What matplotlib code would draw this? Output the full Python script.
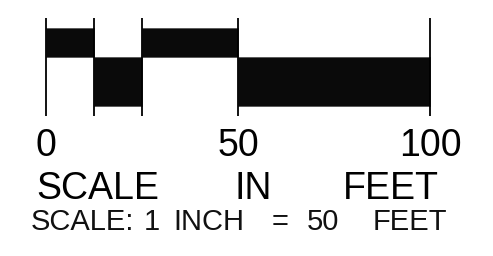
import matplotlib.pyplot as plt

# scale bar segments (feet) and which half of the bar each one fills
edges = [0, 12.5, 25, 50, 100]
fill_row = ['top', 'bottom', 'top', 'bottom']
tick_labels = ['0', '50', '100']
tick_values = [0, 50, 100]
words = ['SCALE', 'IN', 'FEET']
word_centers = [13.5, 53.9, 89.8]
note_words = ['SCALE:', '1', 'INCH', '=', '50', 'FEET']
note_center_px = [82, 152, 209, 280, 323, 410]

PX_PER_FT = 3.84
X0_PX = 46


def px_to_ft(px):
    return (px - X0_PX) / PX_PER_FT


fig = plt.figure(figsize=(4.93, 2.56), dpi=100)
ax = fig.add_axes([0, 0, 1, 1])
ax.set_xlim(px_to_ft(0), px_to_ft(493))
ax.set_ylim(256, 0)
ax.axis('off')

rows = {'top': (28, 29), 'bottom': (57, 49)}
for left, right, row in zip(edges[:-1], edges[1:], fill_row):
    y, h = rows[row]
    ax.bar(left, h, width=right - left, bottom=y, align='edge',
           color='#0a0a0a', edgecolor='#555555', linewidth=0.6)

ax.vlines(edges, 18, 116, color='black', linewidth=1.3)

big = dict(family='Liberation Sans', fontsize=27, color='black')
for v, lab in zip(tick_values, tick_labels):
    ax.text(v, 156, lab, ha='center', va='baseline', **big)
for c, w in zip(word_centers, words):
    ax.text(c, 199, w, ha='center', va='baseline', **big)

for px, w in zip(note_center_px, note_words):
    ax.text(px_to_ft(px), 230, w, ha='center', va='baseline',
            family='Liberation Sans', fontsize=21, color='#111111')

fig.savefig('out.png', dpi=100)
